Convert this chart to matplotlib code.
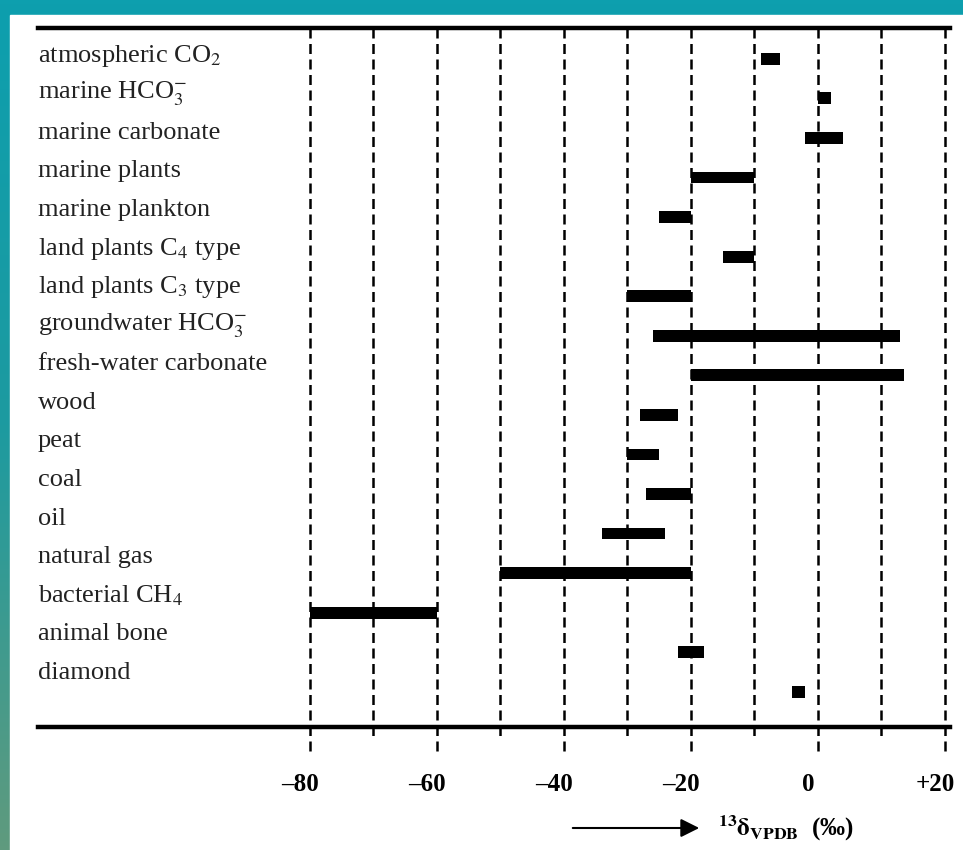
import matplotlib
matplotlib.use('Agg')
from matplotlib import pyplot as plt
from matplotlib import transforms
import numpy as np

plt.rcParams['font.family'] = ['Liberation Serif', 'DejaVu Serif']
plt.rcParams['mathtext.fontset'] = 'stix'

# Datos: intervalos de delta 13C (per mil) por materia
materias = ['atmospheric CO$_2$', 'marine HCO$_3^{-}$', 'marine carbonate',
            'marine plants', 'marine plankton', 'land plants C$_4$ type',
            'land plants C$_3$ type', 'groundwater HCO$_3^{-}$',
            'fresh-water carbonate', 'wood', 'peat', 'coal', 'oil',
            'natural gas', 'bacterial CH$_4$', 'animal bone', 'diamond']
d13c_min = [-9, 0, -2, -20, -25, -15, -30, -26, -20, -28, -30, -27, -34, -50, -80, -22, -4]
d13c_max = [-6, 2, 4, -10, -20, -10, -20, 13, 13.5, -22, -25, -20, -24, -20, -60, -18, -2]

xticks_maj = [-80, -60, -40, -20, 0, 20]
xticks_lab = ['\u201380', '\u201360', '\u201340', '\u201320', '0', '+20']
xgrid_min = [-70, -50, -30, -10, 10]

fig = plt.figure(figsize=(9.63, 8.5), dpi=100)

# fondo verde-azulado con panel blanco
bg = fig.add_axes([0, 0, 1, 1], zorder=-10)
grad = np.linspace(0, 1, 200).reshape(-1, 1)
cmap = matplotlib.colors.LinearSegmentedColormap.from_list('fondo', ['#0d9fae', '#1d9aa0', '#5f9a7e'])
bg.imshow(grad, aspect='auto', cmap=cmap, extent=[0, 1, 0, 1], origin='upper')
bg.add_patch(plt.Rectangle((10 / 963, 0), 1, 1 - 15 / 850, color='white', transform=bg.transAxes))
bg.set_xlim(0, 1)
bg.set_ylim(0, 1)
bg.axis('off')

ax = fig.add_axes([38 / 963, 123 / 850, 912 / 963, 699 / 850])
ax.patch.set_alpha(0)

y = np.arange(len(materias))
ax.barh(y, np.array(d13c_max) - np.array(d13c_min), left=d13c_min,
        height=0.3, color='black', zorder=3)

ax.set_xlim(-122.8, 20.8)
ax.set_ylim(16.89, -0.78)

# lineas de rejilla discontinuas
ax.vlines(xticks_maj, -0.78, 17.52, colors='black', lw=1.8,
          linestyles=(0, (4, 2.2)), clip_on=False, zorder=2)
ax.vlines(xgrid_min, -0.78, 17.2, colors='black', lw=1.8,
          linestyles=(0, (4, 2.2)), clip_on=False, zorder=2)

for s in ['left', 'right']:
    ax.spines[s].set_visible(False)
for s in ['top', 'bottom']:
    ax.spines[s].set_linewidth(3.2)

ax.set_yticks([])
ax.set_xticks(xticks_maj)
ax.set_xticklabels(xticks_lab, fontweight='bold', fontsize=18)
ax.tick_params(axis='x', length=0, pad=33)
desl = transforms.ScaledTranslation(-10 / 100, 0, fig.dpi_scale_trans)
for lab in ax.get_xticklabels():
    lab.set_transform(lab.get_transform() + desl)

# etiquetas de las filas
for i, nome in enumerate(materias):
    ax.text(0.0, i * 0.975 - 0.08, nome, transform=ax.get_yaxis_transform(),
            ha='left', va='center', fontsize=19, color='#222222')

# flecha y etiqueta del eje
fig.patches.append(matplotlib.patches.FancyArrowPatch(
    (570 / 963, 22 / 850), (702 / 963, 22 / 850), transform=fig.transFigure,
    arrowstyle='-|>', mutation_scale=28, lw=1.5, color='black'))
fig.text(718 / 963, 22 / 850, r'$^{\mathbf{13}}\mathbf{\delta}_{\mathbf{VPDB}}$' + '  (\u2030)',
         ha='left', va='center', fontsize=18, fontweight='bold')

plt.savefig('out.png', dpi=100)
